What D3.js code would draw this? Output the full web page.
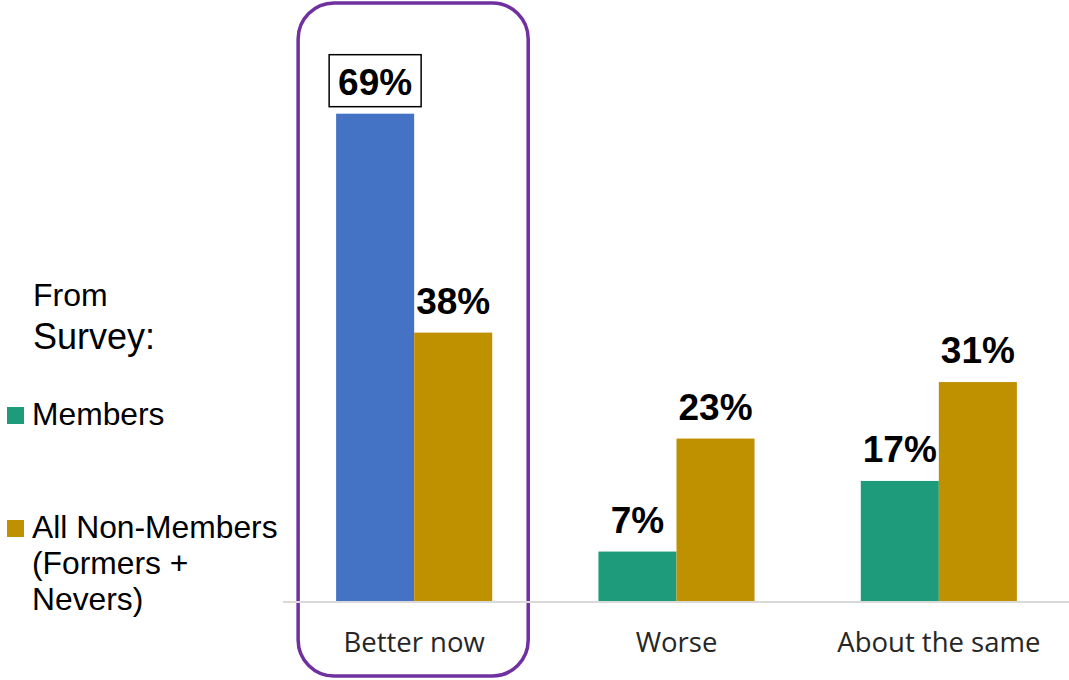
<!DOCTYPE html>
<html>
<head>
<meta charset="utf-8">
<script src="https://cdn.jsdelivr.net/npm/d3@7"></script>
<style>
  html, body { margin: 0; padding: 0; background: #fff; }
  svg { display: block; }
</style>
</head>
<body>
<svg id="chart" width="1069" height="680"></svg>
<script>
// ---- data ----
const categories = ["Better now", "Worse", "About the same"];
const seriesNames = ["Members", "All Non-Members"];
const membersValues = [69, 7, 17];
const nonMembersValues = [38, 23, 31];
const legendTitle = ["From", "Survey:"];
const legendLabels = [["Members"], ["All Non-Members", "(Formers +", "Nevers)"]];
const highlightCategory = "Better now";

// ---- style ----
const colors = { Members: "#1E9B7B", "All Non-Members": "#BF9000" };
const highlightBarColor = "#4472C4";

const svg = d3.select("#chart");

const x = d3.scaleBand().domain(categories).range([283, 1070])
  .paddingInner(0.405).paddingOuter(0.2025);
const xSub = d3.scaleBand().domain(seriesNames).range([0, x.bandwidth()]);
const y = d3.scaleLinear().domain([0, 80]).range([601, 36]);

const rows = categories.map((c, i) => ({
  category: c,
  values: [
    { series: "Members", value: membersValues[i] },
    { series: "All Non-Members", value: nonMembersValues[i] }
  ]
}));

// highlight rounded box
const hx = x(highlightCategory);
svg.append("rect")
  .attr("x", hx - 38).attr("y", 3)
  .attr("width", x.bandwidth() + 74).attr("height", 673)
  .attr("rx", 36).attr("ry", 36)
  .attr("fill", "none").attr("stroke", "#7030A0").attr("stroke-width", 3.5);

// axis baseline
svg.append("line")
  .attr("x1", 283).attr("x2", 1069)
  .attr("y1", y(0) + 1).attr("y2", y(0) + 1)
  .attr("stroke", "#d9d9d9").attr("stroke-width", 2);

const groups = svg.selectAll("g.cat").data(rows).join("g")
  .attr("class", "cat")
  .attr("transform", d => `translate(${x(d.category)},0)`);

groups.selectAll("rect").data(d => d.values.map(v => ({ ...v, category: d.category })))
  .join("rect")
  .attr("x", d => xSub(d.series))
  .attr("y", d => y(d.value))
  .attr("width", xSub.bandwidth())
  .attr("height", d => y(0) - y(d.value))
  .attr("fill", d => (d.category === highlightCategory && d.series === "Members") ? highlightBarColor : colors[d.series]);

groups.selectAll("text.val").data(d => d.values.map(v => ({ ...v, category: d.category })))
  .join("text")
  .attr("class", "val")
  .attr("x", d => xSub(d.series) + xSub.bandwidth() / 2)
  .attr("y", d => y(d.value) - 19)
  .attr("text-anchor", "middle")
  .attr("font-family", "Liberation Sans, Arial, sans-serif")
  .attr("font-weight", "bold")
  .attr("font-size", 37)
  .attr("fill", "#000")
  .text(d => d.value + "%");

// box around highlighted Members label
const hv = membersValues[categories.indexOf(highlightCategory)];
const hcx = hx + xSub("Members") + xSub.bandwidth() / 2;
svg.append("rect")
  .attr("x", hcx - 46).attr("y", y(hv) - 59)
  .attr("width", 92).attr("height", 52)
  .attr("fill", "none").attr("stroke", "#000").attr("stroke-width", 1.5);

// category labels
svg.selectAll("text.cat").data(categories).join("text")
  .attr("class", "cat")
  .attr("x", d => x(d) + x.bandwidth() / 2)
  .attr("y", 652)
  .attr("text-anchor", "middle")
  .attr("font-family", "Open Sans, Noto Sans, sans-serif")
  .attr("font-size", 27.5)
  .attr("fill", "#262626")
  .text(d => d);

// legend
const lg = svg.append("g");
lg.append("text").attr("x", 33).attr("y", 306)
  .attr("font-family", "Liberation Sans, Arial, sans-serif").attr("font-size", 32)
  .attr("fill", "#000").text(legendTitle[0]);
lg.append("text").attr("x", 33).attr("y", 349)
  .attr("font-family", "Liberation Sans, Arial, sans-serif").attr("font-size", 36)
  .attr("fill", "#000").text(legendTitle[1]);

const legendY = [425, 538];
seriesNames.forEach((s, i) => {
  lg.append("rect").attr("x", 7).attr("y", legendY[i] - 18)
    .attr("width", 17).attr("height", 17).attr("fill", colors[s]);
  legendLabels[i].forEach((line, j) => {
    lg.append("text").attr("x", 32).attr("y", legendY[i] + j * 36)
      .attr("font-family", "Liberation Sans, Arial, sans-serif").attr("font-size", 31.8)
      .attr("fill", "#000").text(line);
  });
});
</script>
</body>
</html>
